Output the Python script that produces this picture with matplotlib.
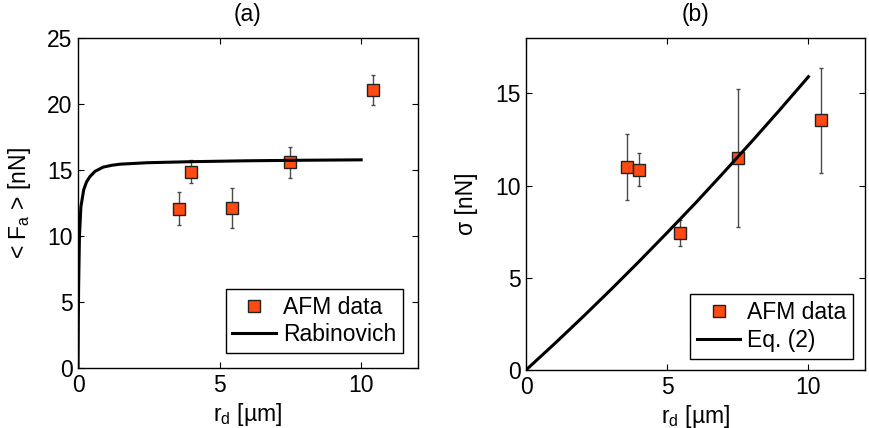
import matplotlib
matplotlib.use("Agg")
import matplotlib.pyplot as plt

plt.rcParams["font.family"] = ["Liberation Sans", "DejaVu Sans"]
plt.rcParams["mathtext.fontset"] = "custom"
plt.rcParams["mathtext.rm"] = "Liberation Sans"
plt.rcParams["mathtext.it"] = "Liberation Sans"

# ---------------------------------------------------------------------------
# Data
# ---------------------------------------------------------------------------
r_d = [3.57, 4.0, 5.45, 7.5, 10.43]

# (a) mean adhesion force
fa_mean = [12.05, 14.87, 12.1, 15.58, 21.06]
fa_err = [1.25, 0.85, 1.5, 1.2, 1.1]
rab_x = [0.0, 0.01, 0.02, 0.05, 0.1, 0.2, 0.3, 0.42, 0.6, 0.89, 1.2, 1.48,
         2.0, 2.43, 3.0, 4.0, 6.0, 8.0, 10.0]
rab_y = [0.0, 3.5, 6.0, 10.0, 12.2, 13.5, 14.1, 14.5, 14.9, 15.22, 15.36,
         15.44, 15.5, 15.55, 15.58, 15.63, 15.7, 15.74, 15.77]

# (b) standard deviation
sig_mean = [11.0, 10.87, 7.43, 11.5, 13.53]
sig_err = [1.8, 0.9, 0.7, 3.75, 2.85]
eq2_x = [0, 1, 2, 3, 4, 5, 6, 7, 8, 9, 10]
eq2_y = [0.0, 1.41, 2.86, 4.35, 5.88, 7.45, 9.05, 10.71, 12.40, 14.13, 15.9]

MARKER_FC = "#FF4A12"
FS = 16.5


def style_axes(ax):
    ax.tick_params(direction="in", top=True, right=True, length=4,
                   labelsize=FS, pad=4)
    for spine in ax.spines.values():
        spine.set_linewidth(1.0)


def draw_panel(ax, y, yerr, cx, cy, line_label):
    ax.errorbar(r_d, y, yerr=yerr, fmt="none", ecolor="#4a4a4a",
                elinewidth=1.0, capsize=1.5, capthick=1.0, zorder=2)
    ax.plot(r_d, y, "s", color=MARKER_FC, markeredgecolor="#222222",
            markersize=9, markeredgewidth=1.0, label="AFM data", zorder=3)
    ax.plot(cx, cy, "k-", linewidth=2.2, label=line_label, zorder=4)


fig = plt.figure(figsize=(8.69, 4.28), dpi=100)
ax1 = fig.add_axes([0.0898, 0.1402, 0.391, 0.771])
ax2 = fig.add_axes([0.6053, 0.1355, 0.390, 0.7757])

# Panel (a)
draw_panel(ax1, fa_mean, fa_err, rab_x, rab_y, "Rabinovich")
ax1.set_xlim(0, 12)
ax1.set_ylim(0, 25)
ax1.set_xticks([0, 5, 10])
ax1.set_yticks([0, 5, 10, 15, 20, 25])
ax1.set_xlabel(r"r$_\mathrm{d}$ [µm]", fontsize=FS, labelpad=3)
ax1.set_ylabel(r"< F$_\mathrm{a}$ > [nN]", fontsize=FS, labelpad=10)
ax1.set_title("(a)", fontsize=FS, pad=12)
style_axes(ax1)
leg1 = ax1.legend(loc="lower right", fontsize=FS, frameon=True, fancybox=False,
                  edgecolor="black", framealpha=1, borderaxespad=0.65,
                  handlelength=1.9, handletextpad=0.3, borderpad=0.3,
                  labelspacing=0.2)
leg1.get_frame().set_linewidth(1.0)

# Panel (b)
draw_panel(ax2, sig_mean, sig_err, eq2_x, eq2_y, "Eq. (2)")
ax2.set_xlim(0, 12)
ax2.set_ylim(0, 18)
ax2.set_xticks([0, 5, 10])
ax2.set_yticks([0, 5, 10, 15])
ax2.set_xlabel(r"r$_\mathrm{d}$ [µm]", fontsize=FS, labelpad=3)
ax2.set_ylabel("σ [nN]", fontsize=FS, labelpad=12)
ax2.set_title("(b)", fontsize=FS, pad=12)
style_axes(ax2)
leg2 = ax2.legend(loc="lower right", fontsize=FS, frameon=True, fancybox=False,
                  edgecolor="black", framealpha=1, borderaxespad=0.5,
                  handlelength=1.9, handletextpad=0.3, borderpad=0.3,
                  labelspacing=0.2)
leg2.get_frame().set_linewidth(1.0)

fig.savefig("out.png", dpi=100, facecolor="white")
